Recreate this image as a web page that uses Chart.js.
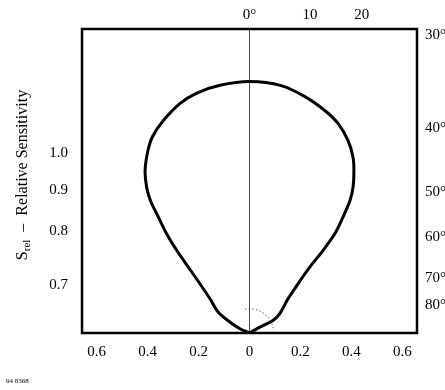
<!DOCTYPE html>
<html>
<head>
<meta charset="utf-8">
<script src="https://cdn.jsdelivr.net/npm/chart.js@4.4.1/dist/chart.umd.min.js"></script>
<style>
  html, body { margin: 0; padding: 0; background: #fff; }
  #wrap { width: 445px; height: 390px; position: relative; }
</style>
</head>
<body>
<div id="wrap"><canvas id="c" width="445" height="390"></canvas></div>
<script>
// ---- Data (polar: angle in degrees from axis, relative sensitivity) ----
const curveAngles = [0, -66, -61, -56.3, -49.1, -45.2, -42.9, -41.4, -39.9, -38.2, -36.8, -35.2, -32.7, -29.1, -26.2, -22.2, -16.9, -12.4, -6.8,
  0, 7.3, 13.2, 18.7, 22.9, 27.1, 30.5, 32.7, 35.4, 37.2, 38.9, 40.7, 41.7, 42.5, 44.6, 48.4, 57.6, 62, 61, 0];
const curveSrel = [0, 0.041, 0.087, 0.147, 0.205, 0.274, 0.352, 0.431, 0.507, 0.578, 0.649, 0.700, 0.758, 0.819, 0.860, 0.898, 0.940, 0.963, 0.978,
  0.986, 0.978, 0.952, 0.921, 0.892, 0.848, 0.800, 0.758, 0.701, 0.652, 0.584, 0.513, 0.433, 0.350, 0.271, 0.202, 0.140, 0.104, 0.053, 0];

// Axis ranges
const xRange = [-0.657, 0.657];
const yRange = [0, 1.192];

// Bottom tick values / labels
const bottomTickValues = [-0.6, -0.4, -0.2, 0, 0.2, 0.4, 0.6];
const bottomTickLabels = ['0.6', '0.4', '0.2', '0', '0.2', '0.4', '0.6'];
// Left tick positions / labels (relative sensitivity circles)
const leftTickValues = [0.705, 0.561, 0.401, 0.188];
const leftTickLabels = ['1.0', '0.9', '0.8', '0.7'];
// Right tick positions / labels (angles)
const rightTickValues = [1.169, 0.804, 0.554, 0.378, 0.216, 0.110];
const rightTickLabels = ['30°', '40°', '50°', '60°', '70°', '80°'];
// Top tick positions / labels (angles)
const topTickValues = [0, 0.237, 0.44];
const topTickLabels = ['0°', '10', '20'];

const figureCode = '94 8368';
const smallArcRadius = 0.095;
const smallArcFrom = -10, smallArcTo = 80;

// Convert polar readings to the chart's x/y plane
const curvePoints = curveAngles.map((a, i) => {
  const t = a * Math.PI / 180;
  return { x: curveSrel[i] * Math.sin(t), y: curveSrel[i] * Math.cos(t) };
});

const FONT = 'Liberation Serif';
const tickFont = { family: FONT, size: 15 };

function fixedTicks(values) {
  return function (axis) { axis.ticks = values.map(v => ({ value: v })); };
}

const framePlugin = {
  id: 'frame',
  beforeDraw(chart) {
    const ctx = chart.ctx;
    ctx.save();
    ctx.fillStyle = '#fff';
    ctx.fillRect(0, 0, chart.width, chart.height);
    ctx.restore();
  },
  afterDatasetsDraw(chart) {
    const ctx = chart.ctx, a = chart.chartArea;
    const xs = chart.scales.x, ys = chart.scales.y;
    const ox = xs.getPixelForValue(0), oy = ys.getPixelForValue(0);
    const rpx = xs.getPixelForValue(smallArcRadius) - ox;
    ctx.save();
    // small dotted arc near the origin
    ctx.strokeStyle = '#333';
    ctx.lineWidth = 1;
    ctx.setLineDash([1.2, 2.4]);
    ctx.beginPath();
    ctx.arc(ox, oy, rpx, (smallArcFrom - 90) * Math.PI / 180, (smallArcTo - 90) * Math.PI / 180);
    ctx.stroke();
    ctx.setLineDash([]);
    // frame
    ctx.strokeStyle = '#000';
    ctx.lineWidth = 2.5;
    ctx.strokeRect(a.left, a.top, a.right - a.left, a.bottom - a.top);
    ctx.restore();
  },
  afterDraw(chart) {
    const ctx = chart.ctx;
    ctx.save();
    ctx.fillStyle = '#000';
    // rotated y-axis title with subscript
    ctx.translate(27, 175);
    ctx.rotate(-Math.PI / 2);
    const big = '16px "' + FONT + '"';
    const small = '11px "' + FONT + '"';
    const rest = '  –  Relative Sensitivity';
    ctx.font = big; const wS = ctx.measureText('S').width; const wRest = ctx.measureText(rest).width;
    ctx.font = small; const wSub = ctx.measureText('rel').width;
    const total = wS + wSub + wRest;
    let x0 = -total / 2;
    ctx.textBaseline = 'alphabetic';
    ctx.textAlign = 'left';
    ctx.font = big; ctx.fillText('S', x0, 0);
    ctx.font = small; ctx.fillText('rel', x0 + wS, 3);
    ctx.font = big; ctx.fillText(rest, x0 + wS + wSub, 0);
    ctx.restore();
    // figure code
    ctx.save();
    ctx.fillStyle = '#000';
    ctx.font = '7px "' + FONT + '"';
    ctx.textBaseline = 'middle';
    ctx.fillText(figureCode, 6, 381);
    ctx.restore();
  }
};

new Chart(document.getElementById('c'), {
  type: 'scatter',
  data: {
    datasets: [
      {
        data: curvePoints,
        showLine: true,
        borderColor: '#000',
        borderWidth: 3,
        pointRadius: 0,
        tension: 0.3,
        fill: false,
        xAxisID: 'x', yAxisID: 'y'
      },
      {
        data: [{ x: 0, y: yRange[0] }, { x: 0, y: yRange[1] }],
        showLine: true,
        borderColor: '#444',
        borderWidth: 1,
        pointRadius: 0,
        xAxisID: 'x', yAxisID: 'y'
      }
    ]
  },
  options: {
    responsive: false,
    animation: false,
    devicePixelRatio: 1,
    layout: { padding: 0 },
    plugins: { legend: { display: false }, tooltip: { enabled: false } },
    scales: {
      x: {
        type: 'linear', position: 'bottom', min: xRange[0], max: xRange[1],
        afterBuildTicks: fixedTicks(bottomTickValues),
        afterFit(s) { s.height = 57; },
        grid: { display: false, drawTicks: false }, border: { display: false },
        ticks: { autoSkip: false, maxRotation: 0, color: '#000', font: tickFont, padding: 10,
          callback: (v, i) => bottomTickLabels[i] }
      },
      x2: {
        type: 'linear', position: 'top', min: xRange[0], max: xRange[1],
        afterBuildTicks: fixedTicks(topTickValues),
        afterFit(s) { s.height = 29; },
        grid: { display: false, drawTicks: false }, border: { display: false },
        ticks: { autoSkip: false, maxRotation: 0, color: '#000', font: tickFont, padding: 5,
          callback: (v, i) => topTickLabels[i] }
      },
      y: {
        type: 'linear', position: 'left', min: yRange[0], max: yRange[1],
        afterBuildTicks: fixedTicks(leftTickValues),
        afterFit(s) { s.width = 82; },
        grid: { display: false, drawTicks: false }, border: { display: false },
        ticks: { autoSkip: false, color: '#000', font: tickFont, padding: 14,
          callback: (v, i) => leftTickLabels[i] }
      },
      y2: {
        type: 'linear', position: 'right', min: yRange[0], max: yRange[1],
        afterBuildTicks: fixedTicks(rightTickValues),
        afterFit(s) { s.width = 28; },
        grid: { display: false, drawTicks: false }, border: { display: false },
        ticks: { autoSkip: false, color: '#000', font: tickFont, padding: 8,
          callback: (v, i) => rightTickLabels[i] }
      }
    }
  },
  plugins: [framePlugin]
});
</script>
</body>
</html>
